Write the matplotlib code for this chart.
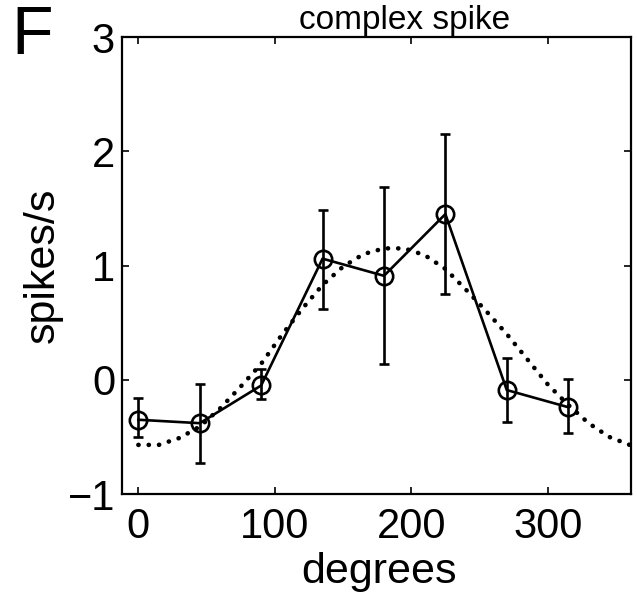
import numpy as np
import matplotlib.pyplot as plt

plt.rcParams['font.family'] = ['Liberation Sans', 'DejaVu Sans']

# mean firing rate per direction
directions = [0, 45, 90, 135, 180, 225, 270, 315]
rate = [-0.35, -0.38, -0.05, 1.06, 0.91, 1.45, -0.09, -0.24]
err_low = [-0.50, -0.73, -0.17, 0.62, 0.14, 0.75, -0.37, -0.47]
err_high = [-0.16, -0.04, 0.09, 1.49, 1.69, 2.15, 0.19, 0.01]

# cosine fit
fit_x = [0, 15, 30, 45, 60, 75, 90, 105, 120, 135, 150, 165, 180,
         195, 210, 225, 240, 255, 270, 285, 300, 315, 330, 345, 360]
fit_y = [-0.57, -0.57, -0.51, -0.41, -0.25, -0.06, 0.14, 0.39, 0.62, 0.83,
         0.99, 1.10, 1.15, 1.15, 1.09, 0.97, 0.79, 0.60, 0.40, 0.18,
         -0.04, -0.22, -0.38, -0.50, -0.57]

fig = plt.figure(figsize=(6.37, 5.97), dpi=100)
ax = fig.add_axes([0.1915, 0.1725, 0.799, 0.7655])

ax.plot(fit_x, fit_y, color='black', linewidth=3.3,
        linestyle=(0, (0.05, 2.2)), dash_capstyle='round', zorder=2)

rate = np.array(rate)
yerr = [rate - np.array(err_low), np.array(err_high) - rate]
ax.errorbar(directions, rate, yerr=yerr, color='black', linewidth=1.9,
            elinewidth=1.9, capsize=3.5, capthick=1.9,
            marker='o', markersize=12.5, markerfacecolor='none',
            markeredgecolor='black', markeredgewidth=1.9, zorder=3)

ax.set_xlim(-12, 361)
ax.set_ylim(-1, 3)
ax.set_xticks([0, 100, 200, 300])
ax.set_yticks([-1, 0, 1, 2, 3])
ax.set_yticklabels(['\u22121', '0', '1', '2', '3'])

ax.tick_params(direction='in', length=5, width=1.2, top=True, right=True,
               labelsize=30)
ax.tick_params(axis='x', pad=9)
ax.tick_params(axis='y', pad=5)
for s in ax.spines.values():
    s.set_linewidth(1.6)

ax.set_xlabel('degrees', fontsize=31)
ax.xaxis.set_label_coords(0.505, -0.126)
ax.set_ylabel('spikes/s', fontsize=31)
ax.yaxis.set_label_coords(-0.116, 0.5)

fig.text(0.635, 0.9514, 'complex spike', fontsize=24, ha='center', va='baseline')
fig.text(0.05, 0.939, 'F', fontsize=49, ha='center', va='center')

fig.savefig('out.png', dpi=100)
